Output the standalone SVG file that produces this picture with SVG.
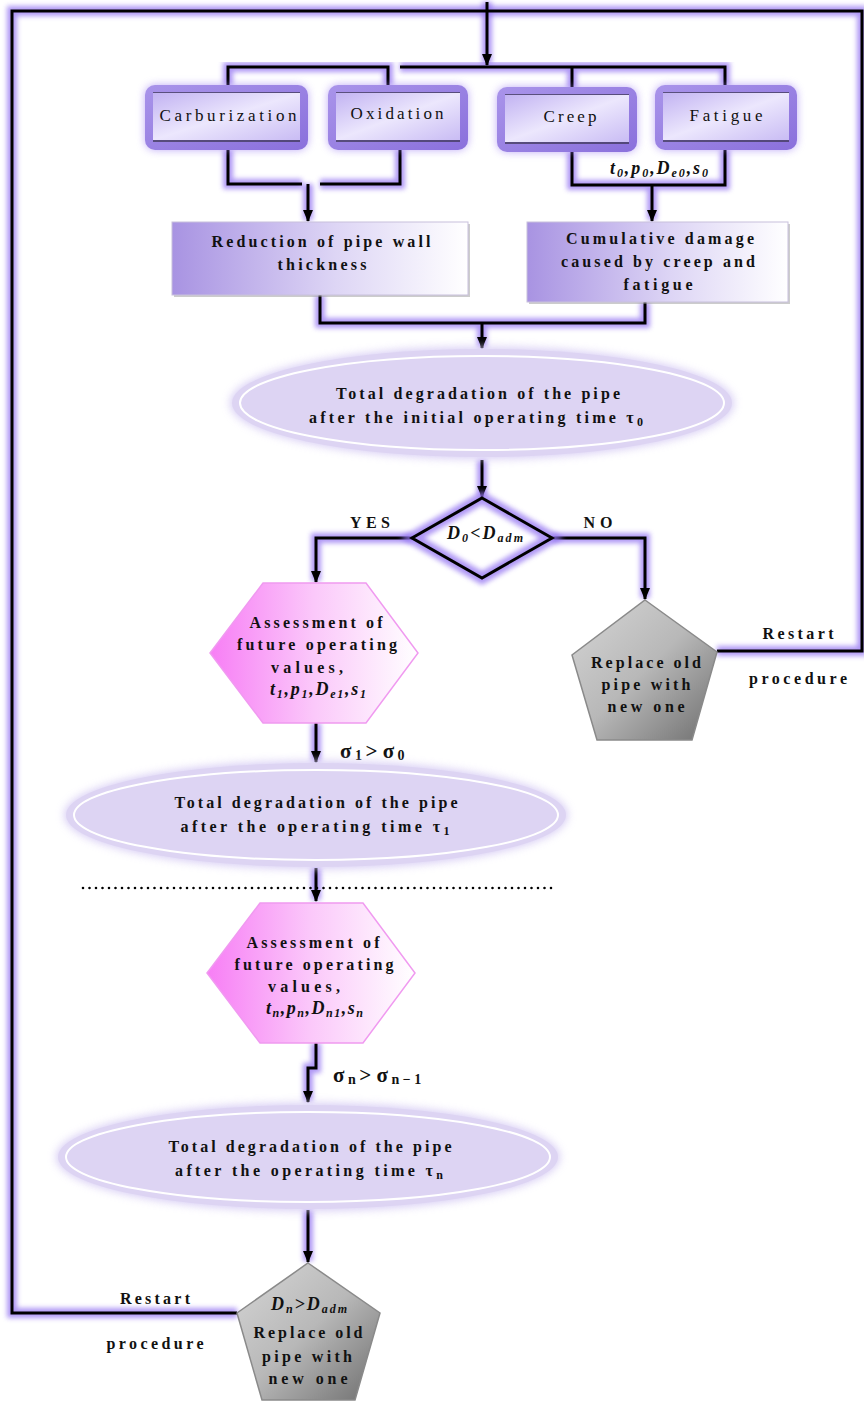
<svg xmlns="http://www.w3.org/2000/svg" width="864" height="1403" viewBox="0 0 864 1403">
<defs>
<style>
.t{font-family:"Liberation Serif",serif;font-weight:bold;font-size:16px;fill:#111;}
.tn{font-family:"Liberation Serif",serif;font-size:17px;fill:#111;}
.it{font-family:"Liberation Serif",serif;font-style:italic;font-weight:bold;font-size:18px;fill:#111;}
.sub{font-size:12px;}
.sg{font-family:"Liberation Serif",serif;font-weight:bold;font-size:21px;fill:#111;}
.sgs{font-size:14px;}
.glow{fill:none;stroke:#9474f2;stroke-width:10;opacity:0.75;filter:url(#blur);}
.ln{fill:none;stroke:#000;stroke-width:3;}
.arr{marker-end:url(#ah);}
</style>
<filter id="blur" x="-20%" y="-20%" width="140%" height="140%"><feGaussianBlur stdDeviation="2.5"/></filter>
<filter id="sglow" x="-20%" y="-20%" width="140%" height="140%"><feGaussianBlur stdDeviation="4"/></filter>
<marker id="ah" markerUnits="userSpaceOnUse" markerWidth="12" markerHeight="12" viewBox="0 0 12 12" refX="11" refY="6" orient="auto"><path d="M0,1 L12,6 L0,11 Z" fill="#000"/></marker>
<linearGradient id="gOut" x1="0" y1="0" x2="1" y2="1"><stop offset="0" stop-color="#a994ea"/><stop offset="1" stop-color="#8a70dc"/></linearGradient>
<linearGradient id="gIn" x1="0" y1="0" x2="1" y2="1"><stop offset="0" stop-color="#c2b3f2"/><stop offset="0.5" stop-color="#ece7fd"/><stop offset="1" stop-color="#c9bcf4"/></linearGradient>
<linearGradient id="gBox" x1="0" y1="0" x2="1" y2="0"><stop offset="0" stop-color="#a893e2"/><stop offset="0.55" stop-color="#ddd5f5"/><stop offset="1" stop-color="#ffffff"/></linearGradient>
<linearGradient id="gHex" x1="0" y1="0" x2="1" y2="0"><stop offset="0" stop-color="#f77ef5"/><stop offset="0.5" stop-color="#fbc8fa"/><stop offset="1" stop-color="#ffffff"/></linearGradient>
<linearGradient id="gPent" x1="0" y1="0" x2="1" y2="1"><stop offset="0" stop-color="#d6d6d6"/><stop offset="0.5" stop-color="#b8b8b8"/><stop offset="1" stop-color="#6e6e6e"/></linearGradient>
<path id="p1" d="M237,1313 H12 V11 H862 V651 H717"/>
<path id="p3" d="M228,85 V67 H388 V85 M400,67 H725 V85 M572,67 V88"/>
</defs>
<rect width="864" height="1403" fill="#fff"/>

<g id="connectors">
<use href="#p1" class="glow"/>
<use href="#p3" class="glow"/>
<path class="glow" d="M487,2 V64 M228,150 V184 H302 M320,184 H400 V150 M308,184 V220 M572,152 V185 H725 V150 M652,185 V220 M320,295 V323 H645 V302 M482,323 V347 M482,460 V496 M412,538 H316 V581 M552,538 H645 V598 M316,723 V761 M316,868 V900 M316,1043 V1068 H308 V1101 M308,1210 V1261"/>
<use href="#p1" class="ln"/>
<path class="ln arr" d="M487,2 V65"/>
<use href="#p3" class="ln"/>
<path class="ln" d="M228,150 V184 H302 M320,184 H400 V150"/>
<path class="ln arr" d="M308,184 V221"/>
<path class="ln" d="M572,152 V185 H725 V150"/>
<path class="ln arr" d="M652,185 V221"/>
<path class="ln" d="M320,295 V323 H645 V302"/>
<path class="ln arr" d="M482,323 V348"/>
<path class="ln arr" d="M482,460 V497"/>
<path class="ln arr" d="M412,538 H316 V582"/>
<path class="ln arr" d="M552,538 H645 V599"/>
<path class="ln arr" d="M316,723 V762"/>
<path class="ln arr" d="M316,868 V901"/>
<path class="ln arr" d="M316,1043 V1068 H308 V1102"/>
<path class="ln arr" d="M308,1210 V1262"/>
<line x1="83" y1="888" x2="553" y2="888" stroke="#000" stroke-width="2.6" stroke-dasharray="0 6.5" stroke-linecap="round"/>
<text class="t" x="370" y="528" text-anchor="middle" textLength="40" lengthAdjust="spacing">YES</text>
<text class="t" x="598" y="528" text-anchor="middle" textLength="29" lengthAdjust="spacing">NO</text>
<text class="t" x="798" y="639" text-anchor="middle" textLength="71" lengthAdjust="spacing">Restart</text>
<text class="t" x="798" y="684" text-anchor="middle" textLength="98" lengthAdjust="spacing">procedure</text>
<text class="t" x="155" y="1304" text-anchor="middle" textLength="70" lengthAdjust="spacing">Restart</text>
<text class="t" x="155" y="1349" text-anchor="middle" textLength="97" lengthAdjust="spacing">procedure</text>
<text class="sg" x="340" y="758">σ<tspan class="sgs" dy="2"> 1 </tspan><tspan dy="-2">&gt; σ</tspan><tspan class="sgs" dy="2"> 0</tspan></text>
<text class="sg" x="333" y="1082">σ<tspan class="sgs" dy="2"> n </tspan><tspan dy="-2">&gt; σ</tspan><tspan class="sgs" dy="2"> n − 1</tspan></text>
<text class="it" x="610" y="174" font-weight="normal" font-size="17" textLength="98" lengthAdjust="spacing">t<tspan class="sub" dy="3">0</tspan><tspan dy="-3">,p</tspan><tspan class="sub" dy="3">0</tspan><tspan dy="-3">,D</tspan><tspan class="sub" dy="3">e0</tspan><tspan dy="-3">,s</tspan><tspan class="sub" dy="3">0</tspan></text>
</g>

<g id="carburization">
<rect x="145" y="85" width="163" height="65" rx="10" fill="#9474f2" filter="url(#sglow)" opacity="0.6"/>
<rect x="145" y="85" width="163" height="65" rx="10" fill="url(#gOut)"/>
<rect x="153" y="92" width="147" height="50" fill="#3a3550" opacity="0.7"/>
<rect x="153" y="93" width="147" height="47" fill="url(#gIn)"/>
<text class="tn" x="228" y="121" text-anchor="middle" textLength="137" lengthAdjust="spacing">Carburization</text>
</g>
<g id="oxidation">
<rect x="328" y="85" width="140" height="65" rx="10" fill="#9474f2" filter="url(#sglow)" opacity="0.6"/>
<rect x="328" y="85" width="140" height="65" rx="10" fill="url(#gOut)"/>
<rect x="336" y="92" width="124" height="50" fill="#3a3550" opacity="0.7"/>
<rect x="336" y="93" width="124" height="47" fill="url(#gIn)"/>
<text class="tn" x="397" y="119" text-anchor="middle" textLength="93" lengthAdjust="spacing">Oxidation</text>
</g>
<g id="creep">
<rect x="497" y="87" width="140" height="65" rx="10" fill="#9474f2" filter="url(#sglow)" opacity="0.6"/>
<rect x="497" y="87" width="140" height="65" rx="10" fill="url(#gOut)"/>
<rect x="505" y="94" width="124" height="50" fill="#3a3550" opacity="0.7"/>
<rect x="505" y="95" width="124" height="47" fill="url(#gIn)"/>
<text class="tn" x="570" y="122" text-anchor="middle" textLength="53" lengthAdjust="spacing">Creep</text>
</g>
<g id="fatigue">
<rect x="655" y="85" width="142" height="65" rx="10" fill="#9474f2" filter="url(#sglow)" opacity="0.6"/>
<rect x="655" y="85" width="142" height="65" rx="10" fill="url(#gOut)"/>
<rect x="663" y="92" width="126" height="50" fill="#3a3550" opacity="0.7"/>
<rect x="663" y="93" width="126" height="47" fill="url(#gIn)"/>
<text class="tn" x="726" y="121" text-anchor="middle" textLength="73" lengthAdjust="spacing">Fatigue</text>
</g>

<g id="reduction">
<rect x="174" y="224" width="296" height="73" fill="#999" opacity="0.5"/>
<rect x="172" y="222" width="296" height="73" fill="url(#gBox)" stroke="#c8c0dc" stroke-width="1"/>
<text class="t" x="321" y="247" text-anchor="middle" textLength="219" lengthAdjust="spacing">Reduction of pipe wall</text>
<text class="t" x="322" y="270" text-anchor="middle" textLength="89" lengthAdjust="spacing">thickness</text>
</g>
<g id="cumulative">
<rect x="529" y="224" width="261" height="80" fill="#999" opacity="0.5"/>
<rect x="527" y="222" width="261" height="80" fill="url(#gBox)" stroke="#c8c0dc" stroke-width="1"/>
<text class="t" x="660" y="244" text-anchor="middle" textLength="188" lengthAdjust="spacing">Cumulative damage</text>
<text class="t" x="658" y="267" text-anchor="middle" textLength="194" lengthAdjust="spacing">caused by creep and</text>
<text class="t" x="658" y="290" text-anchor="middle" textLength="69" lengthAdjust="spacing">fatigue</text>
</g>

<g id="ellipse1">
<ellipse cx="482" cy="403" rx="252" ry="56" fill="#cfc2f2" filter="url(#sglow)" opacity="0.8"/>
<ellipse cx="482" cy="403" rx="250" ry="54" fill="#ddd4f3"/>
<ellipse cx="482" cy="403" rx="242" ry="47" fill="none" stroke="#fff" stroke-width="2"/>
<text class="t" x="478" y="399" text-anchor="middle" textLength="284" lengthAdjust="spacing">Total degradation of the pipe</text>
<text class="t" x="476" y="423" text-anchor="middle" textLength="334" lengthAdjust="spacing">after the initial operating time  τ<tspan class="sub" dy="3">0</tspan></text>
</g>

<g id="decision">
<path d="M482,498 L552,538 L482,578 L412,538 Z" fill="#fff"/>
<path d="M482,498 L552,538 L482,578 L412,538 Z" fill="none" stroke="#9474f2" stroke-width="12" opacity="0.75" filter="url(#blur)"/>
<path d="M482,498 L552,538 L482,578 L412,538 Z" fill="none" stroke="#000" stroke-width="3"/>
<text class="it" x="447" y="539" textLength="76" lengthAdjust="spacing">D<tspan class="sub" dy="3">0</tspan><tspan dy="-3">&lt;D</tspan><tspan class="sub" dy="3">adm</tspan></text>
</g>

<g id="assess1">
<path d="M263,583 L366,583 L418,653 L366,723 L263,723 L210,653 Z" fill="url(#gHex)" stroke="#f09af0" stroke-width="1.5"/>
<text class="t" x="316" y="628" text-anchor="middle" textLength="133" lengthAdjust="spacing">Assessment of</text>
<text class="t" x="317" y="650" text-anchor="middle" textLength="160" lengthAdjust="spacing">future operating</text>
<text class="t" x="307" y="673" text-anchor="middle" textLength="72" lengthAdjust="spacing">values,</text>
<text class="it" x="270" y="695" textLength="96" lengthAdjust="spacing">t<tspan class="sub" dy="3">1</tspan><tspan dy="-3">,p</tspan><tspan class="sub" dy="3">1</tspan><tspan dy="-3">,D</tspan><tspan class="sub" dy="3">e1</tspan><tspan dy="-3">,s</tspan><tspan class="sub" dy="3">1</tspan></text>
</g>

<g id="replace1">
<path d="M645,600 L717,652 L692,740 L597,740 L572,655 Z" fill="url(#gPent)" stroke="#8a8a8a" stroke-width="1.5"/>
<text class="t" x="646" y="668" text-anchor="middle" textLength="110" lengthAdjust="spacing">Replace old</text>
<text class="t" x="646" y="690" text-anchor="middle" textLength="89" lengthAdjust="spacing">pipe with</text>
<text class="t" x="646" y="712" text-anchor="middle" textLength="77" lengthAdjust="spacing">new one</text>
</g>

<g id="ellipse2">
<ellipse cx="316" cy="815" rx="252" ry="54" fill="#cfc2f2" filter="url(#sglow)" opacity="0.8"/>
<ellipse cx="316" cy="815" rx="250" ry="52" fill="#ddd4f3"/>
<ellipse cx="316" cy="815" rx="242" ry="45" fill="none" stroke="#fff" stroke-width="2"/>
<text class="t" x="316" y="808" text-anchor="middle" textLength="283" lengthAdjust="spacing">Total degradation of the pipe</text>
<text class="t" x="315" y="832" text-anchor="middle" textLength="269" lengthAdjust="spacing">after the operating time  τ<tspan class="sub" dy="3">1</tspan></text>
</g>

<g id="assess2">
<path d="M260,903 L363,903 L415,973 L363,1043 L260,1043 L207,973 Z" fill="url(#gHex)" stroke="#f09af0" stroke-width="1.5"/>
<text class="t" x="313" y="948" text-anchor="middle" textLength="133" lengthAdjust="spacing">Assessment of</text>
<text class="t" x="314" y="970" text-anchor="middle" textLength="159" lengthAdjust="spacing">future operating</text>
<text class="t" x="304" y="992" text-anchor="middle" textLength="72" lengthAdjust="spacing">values,</text>
<text class="it" x="266" y="1014" textLength="97" lengthAdjust="spacing">t<tspan class="sub" dy="3">n</tspan><tspan dy="-3">,p</tspan><tspan class="sub" dy="3">n</tspan><tspan dy="-3">,D</tspan><tspan class="sub" dy="3">n1</tspan><tspan dy="-3">,s</tspan><tspan class="sub" dy="3">n</tspan></text>
</g>

<g id="ellipse3">
<ellipse cx="308" cy="1157" rx="252" ry="54" fill="#cfc2f2" filter="url(#sglow)" opacity="0.8"/>
<ellipse cx="308" cy="1157" rx="250" ry="52" fill="#ddd4f3"/>
<ellipse cx="308" cy="1157" rx="242" ry="45" fill="none" stroke="#fff" stroke-width="2"/>
<text class="t" x="310" y="1152" text-anchor="middle" textLength="283" lengthAdjust="spacing">Total degradation of the pipe</text>
<text class="t" x="309" y="1176" text-anchor="middle" textLength="268" lengthAdjust="spacing">after the operating time  τ<tspan class="sub" dy="3">n</tspan></text>
</g>

<g id="replace2">
<path d="M308,1263 L380,1313 L355,1400 L262,1400 L237,1313 Z" fill="url(#gPent)" stroke="#8a8a8a" stroke-width="1.5"/>
<text class="it" x="271" y="1310" textLength="76" lengthAdjust="spacing">D<tspan class="sub" dy="3">n</tspan><tspan dy="-3">&gt;D</tspan><tspan class="sub" dy="3">adm</tspan></text>
<text class="t" x="308" y="1338" text-anchor="middle" textLength="109" lengthAdjust="spacing">Replace old</text>
<text class="t" x="307" y="1362" text-anchor="middle" textLength="90" lengthAdjust="spacing">pipe with</text>
<text class="t" x="308" y="1384" text-anchor="middle" textLength="79" lengthAdjust="spacing">new one</text>
</g>
</svg>
